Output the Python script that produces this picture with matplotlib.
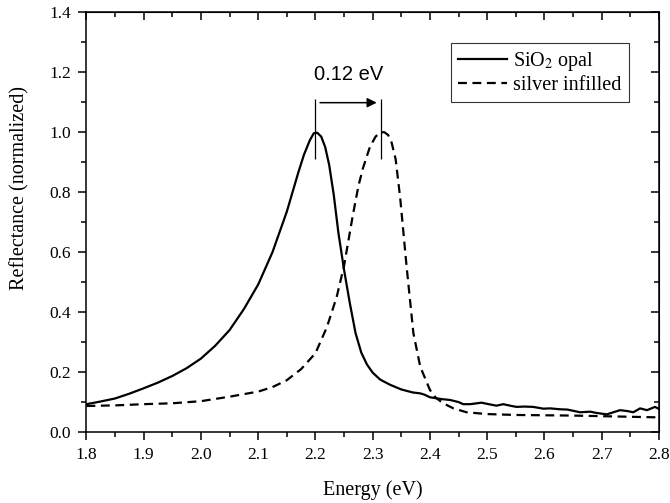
import matplotlib
matplotlib.use("Agg")
import matplotlib.pyplot as plt
from matplotlib.ticker import MultipleLocator, FormatStrFormatter

plt.rcParams['font.family'] = ['Liberation Serif', 'DejaVu Serif']
plt.rcParams['mathtext.fontset'] = 'stix'

# SiO2 opal (solid)
opal_x = [1.80, 1.825, 1.85, 1.875, 1.90, 1.925, 1.95, 1.975, 2.00, 2.025, 2.05, 2.075,
          2.10, 2.125, 2.15, 2.16, 2.17, 2.18, 2.19, 2.197, 2.203, 2.21, 2.217, 2.224,
          2.232, 2.24, 2.25, 2.26, 2.27, 2.28, 2.29, 2.30, 2.313, 2.33, 2.35, 2.37, 2.383,
          2.39, 2.40, 2.42, 2.435, 2.45, 2.458, 2.47, 2.49, 2.50, 2.516, 2.528, 2.54, 2.551,
          2.565, 2.58, 2.598, 2.61, 2.627, 2.64, 2.65, 2.662, 2.68, 2.69, 2.709, 2.72,
          2.732, 2.745, 2.755, 2.767, 2.779, 2.793, 2.80]
opal_y = [0.093, 0.102, 0.112, 0.128, 0.146, 0.165, 0.187, 0.213, 0.245, 0.288, 0.340, 0.410,
          0.492, 0.600, 0.735, 0.800, 0.865, 0.925, 0.972, 0.996, 0.998, 0.985, 0.950, 0.890,
          0.790, 0.665, 0.540, 0.430, 0.330, 0.265, 0.225, 0.198, 0.175, 0.158, 0.142, 0.132, 0.129,
          0.125, 0.116, 0.110, 0.107, 0.100, 0.093, 0.093, 0.098, 0.094, 0.088, 0.093, 0.088, 0.084,
          0.085, 0.084, 0.078, 0.079, 0.076, 0.075, 0.071, 0.066, 0.068, 0.064, 0.059, 0.066,
          0.073, 0.070, 0.066, 0.079, 0.073, 0.084, 0.077]

# silver infilled (dashed)
silver_x = [1.80, 1.85, 1.90, 1.95, 2.00, 2.05, 2.10, 2.125, 2.15, 2.175, 2.20, 2.22,
            2.237, 2.25, 2.265, 2.275, 2.283, 2.295, 2.305, 2.313, 2.32, 2.327, 2.333,
            2.34, 2.348, 2.359, 2.371, 2.383, 2.40, 2.41, 2.423, 2.441, 2.464, 2.50, 2.55,
            2.60, 2.65, 2.70, 2.75, 2.80]
silver_y = [0.087, 0.089, 0.093, 0.096, 0.103, 0.118, 0.135, 0.150, 0.173, 0.210, 0.263, 0.350,
            0.450, 0.555, 0.720, 0.820, 0.880, 0.950, 0.985, 0.998, 1.000, 0.990, 0.965,
            0.910, 0.780, 0.555, 0.330, 0.218, 0.140, 0.115, 0.096, 0.079, 0.066, 0.060, 0.057,
            0.056, 0.055, 0.053, 0.051, 0.049]

peak_opal = 2.20
peak_silver = 2.315
shift_label = '0.12 eV'

fig = plt.figure(figsize=(6.7, 5.03), dpi=100)
ax = fig.add_axes([0.129, 0.141, 0.8546, 0.835])

ax.plot(opal_x, opal_y, color='black', lw=1.6, label='SiO$_2$ opal')
ax.plot(silver_x, silver_y, color='black', lw=1.6, ls=(0, (4, 2.5)), label='silver infilled')

# peak markers and shift arrow
ax.vlines([peak_opal, peak_silver], 0.91, 1.11, color='black', lw=0.9)
ax.annotate('', xy=(peak_silver - 0.008, 1.098), xytext=(peak_opal + 0.008, 1.098),
            arrowprops=dict(arrowstyle='-|>', color='black', lw=1.1, mutation_scale=14,
                            shrinkA=0, shrinkB=0))
ax.text((peak_opal + peak_silver) / 2, 1.16, shift_label, ha='center', va='bottom',
        fontsize=14.5, family=['Liberation Sans', 'DejaVu Sans'])

ax.set_xlim(1.8, 2.8)
ax.set_ylim(0, 1.4)
ax.xaxis.set_major_locator(MultipleLocator(0.1))
ax.xaxis.set_minor_locator(MultipleLocator(0.05))
ax.yaxis.set_major_locator(MultipleLocator(0.2))
ax.yaxis.set_minor_locator(MultipleLocator(0.1))
ax.xaxis.set_major_formatter(FormatStrFormatter('%.1f'))
ax.yaxis.set_major_formatter(FormatStrFormatter('%.1f'))
ax.tick_params(which='major', direction='out', length=6, width=1.1, labelsize=12.5, pad=5)
ax.tick_params(which='minor', direction='out', length=3.5, width=1.1)
for s in ax.spines.values():
    s.set_linewidth(1.1)

# mirrored inward ticks on top and right
top = ax.secondary_xaxis('top')
top.xaxis.set_major_locator(MultipleLocator(0.1))
top.xaxis.set_minor_locator(MultipleLocator(0.05))
top.tick_params(which='major', direction='in', length=6, width=1.1, labeltop=False)
top.tick_params(which='minor', direction='in', length=3.5, width=1.1)
right = ax.secondary_yaxis('right')
right.yaxis.set_major_locator(MultipleLocator(0.2))
right.yaxis.set_minor_locator(MultipleLocator(0.1))
right.tick_params(which='major', direction='in', length=6, width=1.1, labelright=False)
right.tick_params(which='minor', direction='in', length=3.5, width=1.1)

ax.set_xlabel('Energy (eV)', fontsize=14.5)
ax.xaxis.set_label_coords(0.5, -0.115)
ax.set_ylabel('Reflectance (normalized)', fontsize=14.5)
ax.yaxis.set_label_coords(-0.1, 0.58)

leg = ax.legend(loc='upper right', bbox_to_anchor=(0.947, 0.927), fontsize=14.5,
                frameon=True, fancybox=False, edgecolor='black', handlelength=2.45,
                handletextpad=0.3, labelspacing=0.15, borderpad=0.35, borderaxespad=0)
leg.get_frame().set_linewidth(0.8)

fig.savefig('out.png', dpi=100)
